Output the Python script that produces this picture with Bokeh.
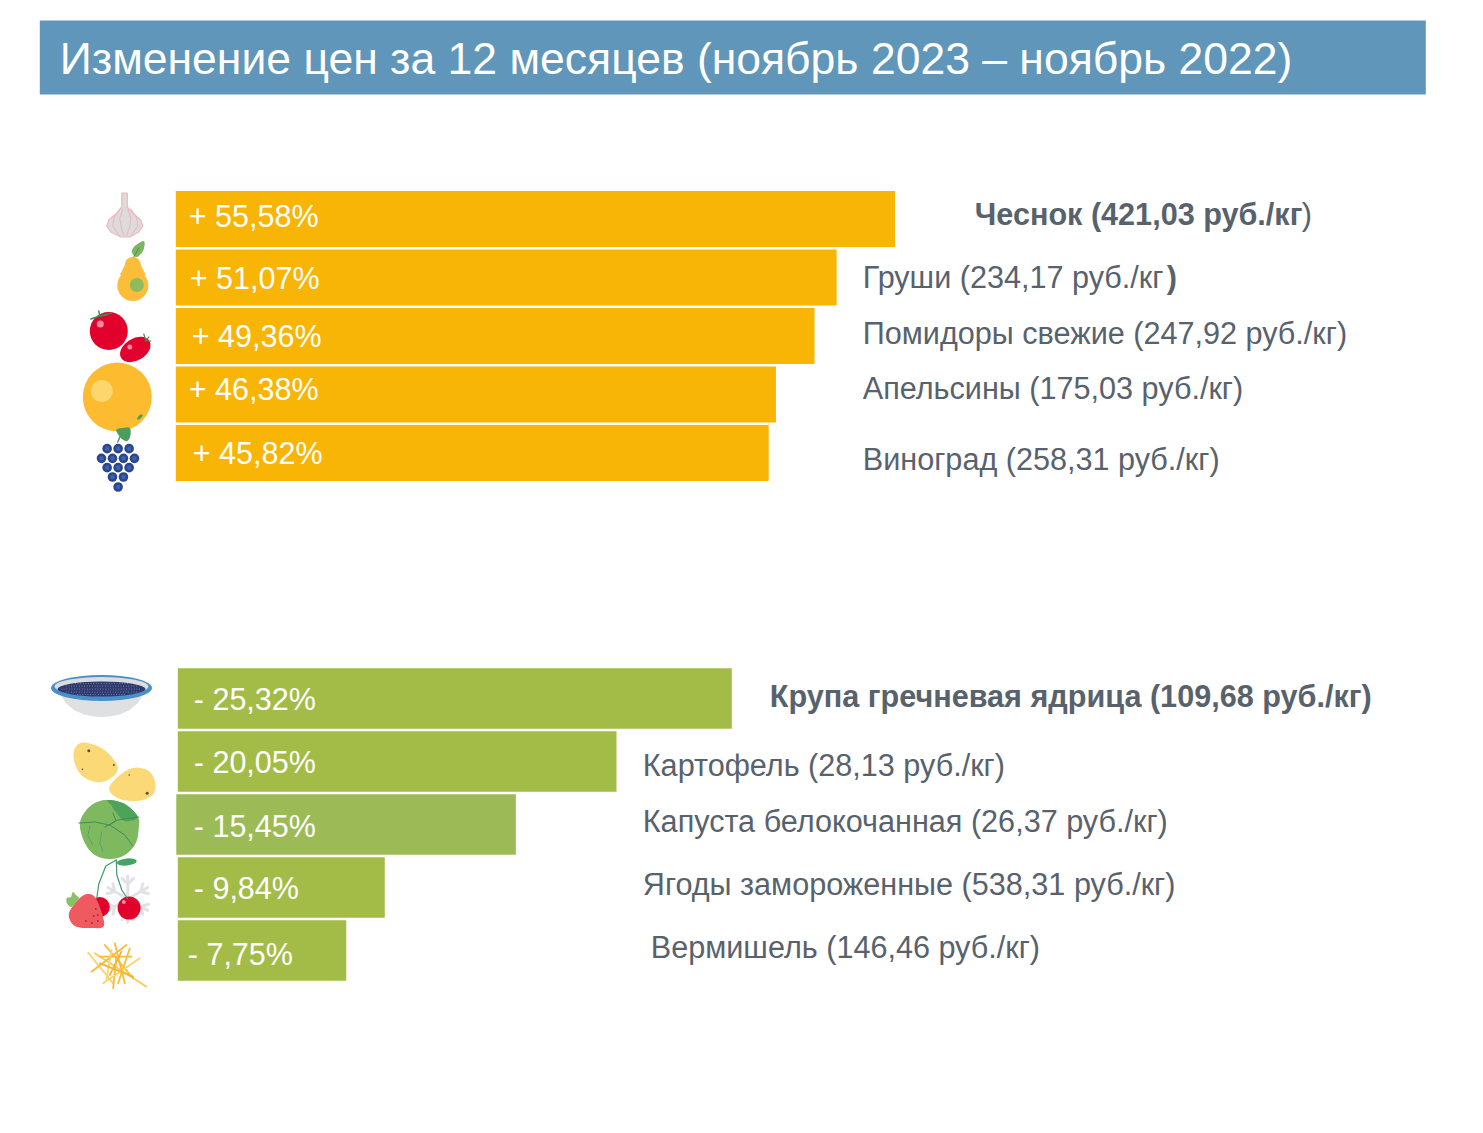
from bokeh.plotting import figure
from bokeh.models import Range1d, ColumnDataSource
from bokeh.embed import file_html
from bokeh.resources import INLINE
from bokeh.core.properties import value
import math

TITLE = "Изменение цен за 12 месяцев (ноябрь 2023 – ноябрь 2022)"
UP_NAMES = ["Чеснок", "Груши", "Помидоры свежие", "Апельсины", "Виноград"]
UP_PRICES = ["421,03", "234,17", "247,92", "175,03", "258,31"]
UP_VALUES = [55.58, 51.07, 49.36, 46.38, 45.82]
UP_LABELS = ["+ 55,58%", "+ 51,07%", "+ 49,36%", "+ 46,38%", "+ 45,82%"]
DOWN_NAMES = ["Крупа гречневая ядрица", "Картофель", "Капуста белокочанная", "Ягоды замороженные", "Вермишель"]
DOWN_PRICES = ["109,68", "28,13", "26,37", "538,31", "146,46"]
DOWN_VALUES = [25.32, 20.05, 15.45, 9.46, 7.7]
DOWN_LABELS = ["- 25,32%", "- 20,05%", "- 15,45%", "- 9,84%", "- 7,75%"]

FONT = value("Liberation Sans")
GREY = "#58626c"
W, H = 1467, 1117
X0, Y0 = 0.7, 0.5

p = figure(width=W, height=H, output_backend="svg", toolbar_location=None,
           x_range=Range1d(X0, W + X0), y_range=Range1d(H + Y0, Y0),
           x_axis_location=None, y_axis_location=None, min_border=0)
p.grid.visible = False
p.outline_line_color = None
p.background_fill_color = "white"

# value scales of the two bar groups
def add_scales(tag, x0, per_x, y0, per_y):
    p.extra_x_ranges[tag] = Range1d((X0 - x0) / per_x, (W + X0 - x0) / per_x)
    p.extra_y_ranges[tag] = Range1d((H + Y0 - y0) / per_y, (Y0 - y0) / per_y)

add_scales("up", 176, 12.94, 219, 58.5)
add_scales("down", 178, 21.88, 698.5, 63.0)

# header
p.quad(left=40, right=1426, top=20.5, bottom=94.5, fill_color="#6096b9", line_color=None)
p.text(x=[60], y=[58.5], text=[TITLE], text_font=FONT, text_font_size="44.5px", text_color="white",
       text_baseline="middle", text_align="left")

def group(tag, vals, labels, colors, h, lefts, lab_dx, lab_dy, size="30.5px"):
    idx = list(range(len(vals)))
    src = ColumnDataSource(dict(y=idx, right=vals, left=lefts, color=colors, label=labels,
                                zero=[0] * len(idx), dx=lab_dx, dy=lab_dy))
    p.hbar(y="y", left="left", right="right", height=h, fill_color="color", line_color=None,
           source=src, x_range_name=tag, y_range_name=tag)
    p.text(x="zero", y="y", text="label", x_offset="dx", y_offset="dy", source=src,
           x_range_name=tag, y_range_name=tag, text_font=FONT, text_font_size=size,
           text_color="white", text_baseline="middle", text_align="left")

def names(tag, strs, dx, dy, style="normal", size="30.6px"):
    idx = [i for i, s in enumerate(strs) if s]
    src = ColumnDataSource(dict(y=idx, label=[strs[i] for i in idx], zero=[0] * len(idx),
                                dx=[dx[i] for i in idx], dy=[dy[i] for i in idx]))
    p.text(x="zero", y="y", text="label", x_offset="dx", y_offset="dy", source=src,
           x_range_name=tag, y_range_name=tag, text_font=FONT, text_font_size=size,
           text_font_style=style, text_color=GREY, text_baseline="middle", text_align="left")

YEL = "#f9b506"
group("up", UP_VALUES, UP_LABELS, [YEL] * 5, 56 / 58.5, [0] * 5,
      [13, 14, 16, 13, 17], [-3, 0, 0, -6, 0])
GRN = "#a3bc48"
group("down", DOWN_VALUES, DOWN_LABELS, [GRN, GRN, "#9cbb56", GRN, GRN], 60.5 / 63,
      [0, 0, -0.07, 0, 0], [16, 16, 16, 16, 10], [0, 0, 1, 0, 3])

# right-hand names: bold and regular runs
up_full = [f"{n} ({v} руб./кг" for n, v in zip(UP_NAMES, UP_PRICES)]
UDX = [799, 687, 687, 687, 687]
UDY = [-5, -1, -3, -7, 6]
names("up", [up_full[0], "", "", "", ""], UDX, UDY, "bold")
names("up", [")", "", "", "", ""], [1126, 0, 0, 0, 0], UDY)
names("up", ["", up_full[1], up_full[2] + ")", up_full[3] + ")", up_full[4] + ")"], UDX, UDY)
names("up", ["", ")", "", "", ""], [0, 991, 0, 0, 0], UDY, "bold")
down_full = [f"{n} ({v} руб./кг)" for n, v in zip(DOWN_NAMES, DOWN_PRICES)]
DDX = [592, 465, 465, 465, 473]
DDY = [-3, 3, -4, -4, -4]
names("down", [down_full[0], "", "", "", ""], DDX, DDY, "bold")
names("down", [""] + down_full[1:], DDX, DDY)

# ---------- decorative icons (image pixel coordinates) ----------
def smooth(pts, n=8):
    out = []
    m = len(pts)
    for i in range(m):
        p0, p1, p2, p3 = pts[i - 1], pts[i], pts[(i + 1) % m], pts[(i + 2) % m]
        for k in range(n):
            t = k / n
            f = lambda a, b, c, d: 0.5 * (2 * b + (c - a) * t + (2 * a - 5 * b + 4 * c - d) * t * t + (3 * b - a - 3 * c + d) * t ** 3)
            out.append((f(p0[0], p1[0], p2[0], p3[0]), f(p0[1], p1[1], p2[1], p3[1])))
    return out

def blob(pts, color, sm=True, **kw):
    q = smooth(pts) if sm else pts
    p.patch([a for a, b in q], [b for a, b in q], fill_color=color, line_color=kw.get("line", None),
            line_width=kw.get("lw", 1))

def dot(x, y, r, color):
    p.ellipse(x=[x], y=[y], width=[2 * r], height=[2 * r], fill_color=color, line_color=None)

def oval(x, y, w, h, a, color):
    p.ellipse(x=[x], y=[y], width=[w], height=[h], angle=[a], fill_color=color, line_color=None)

def line(xs, ys, color, w=1.5):
    p.line(xs, ys, line_color=color, line_width=w, line_cap="round")

# garlic
blob([(122, 193), (127.5, 193), (127.5, 207), (133, 213), (141, 220), (143, 226), (139, 232), (130, 237),
      (121, 237), (111, 232), (107, 226), (109, 220), (117, 213), (122, 207)], "#dddcdd", sm=False,
     line="#efb7c0", lw=1.2)
for xs in ([120, 114, 113, 120], [123, 120, 121, 124], [128, 131, 130, 127], [131, 137, 138, 131]):
    line(xs, [209, 218, 226, 236], "#efb7c0", 1.1)

# pear
dot(133, 265, 8, "#fcbe38")
dot(133, 285.5, 15.5, "#fcbe38")
blob([(125, 265), (141, 265), (146, 275), (120, 275)], "#fcbe38", sm=False)
dot(137, 285, 7, "#8fbb5f")
blob([(144, 241), (144, 249), (140, 255), (136, 257), (132, 252), (135, 246)], "#7cb661")
line([134, 139], [257, 248], "#4b8f4f", 1)

# tomatoes
dot(109, 331, 19, "#e2002d")
dot(100.5, 324, 3.5, "#f58a9a")
for x2, y2 in [(91, 319), (99, 311), (107, 315), (112, 313)]:
    line([100, x2], [316, y2], "#3f8a52", 1.4)
oval(135.5, 349.5, 33, 22, 0.55, "#e2002d")
dot(130, 347, 2.5, "#f58a9a")
for x2, y2 in [(151, 341), (144, 334), (149, 337)]:
    line([146, x2], [341, y2], "#3f8a52", 1.2)

# orange
dot(117.5, 397, 34.5, "#fdbb30")
dot(102, 391, 11, "#fdd66e")
oval(140, 417, 7, 3, 0.8, "#4a9e5c")
blob([(116.5, 430), (123, 428), (130, 428), (130.5, 436), (127, 441), (121, 438)], "#4a9e5c")
line([118, 120], [442, 437], "#4a9e5c", 1.5)

# grapes
for yz, xzs in [(326, [112, 145, 178]), (355, [95, 128, 161, 194]), (383, [112, 145, 178]),
                (411, [128, 161]), (441, [145])]:
    for xz in xzs:
        dot(70 + xz / 3, 340 + yz / 3, 4.8, "#2b4590")
        dot(70 + xz / 3, 340 + yz / 3, 2.3, "#3c62ae")

# bowl
bowl_x = [60, 66, 74, 84, 94, 102, 110, 120, 130, 138, 144]
bowl_y = [694, 703, 710, 714.5, 716.5, 717, 716.5, 714.5, 710, 703, 694]
p.patch(bowl_x, bowl_y, fill_color="#dfe0e1", line_color=None)
oval(101.7, 688, 101, 26, 0, "#4a90c8")
oval(101.7, 686.5, 94, 19, 0, "#dcdde0")
oval(101.7, 689, 88, 15, 0, "#2f3a70")
for j, (dy, half) in enumerate([(683.5, 26), (686, 36), (689, 40), (692, 36), (694.5, 24)]):
    for i in range(int(2 * half / 2.6) + 1):
        dot(101.7 - half + i * 2.6 + (j % 2) * 0.8, dy, 0.55, "#7f86a6")

# potatoes
Z3 = lambda pts: [(40 + a / 3, 660 + b / 3) for a, b in pts]
blob(Z3([(125, 248), (165, 255), (200, 275), (232, 315), (225, 345), (180, 367), (130, 350), (105, 310), (103, 270)]), "#fbd976")
blob(Z3([(208, 385), (240, 345), (285, 323), (330, 335), (347, 375), (335, 408), (290, 423), (235, 415)]), "#fbd976")
for (a, b), r in zip(Z3([(147, 272), (222, 315), (128, 328), (322, 400), (268, 345)]), [1.5, 1, 0.8, 1.5, 0.8]):
    dot(a, b, r, "#55504a")

# cabbage
blob([(108, 800), (125, 804), (138, 817), (139, 827), (136, 843), (125, 855), (110, 859), (95, 855),
      (85, 843), (80, 825), (85, 812), (95, 803)], "#7fb95f")
blob([(108, 800), (125, 804), (138, 817), (125, 821), (116, 812), (112, 806)], "#4da35a")
line([79, 95, 110, 125, 133], [823, 822, 825, 835, 846], "#3f8f5a", 1)
line([105, 118, 139], [827, 820, 817], "#3f8f5a", 1)
line([113, 116, 110], [813, 820, 825], "#3f8f5a", 1)
line([90, 88, 93], [826, 836, 845], "#4f9f63", 0.8)
line([102, 100, 103], [832, 843, 851], "#4f9f63", 0.8)

# snowflake
cx, cy = 128, 899
for k in range(6):
    a = math.radians(60 * k + 30)
    ex, ey = cx + 23 * math.cos(a), cy + 23 * math.sin(a)
    line([cx, ex], [cy, ey], "#e2e2e6", 3)
    mx, my = cx + 15 * math.cos(a), cy + 15 * math.sin(a)
    for s in (-1, 1):
        b = a + s * 0.8
        line([mx, mx + 8 * math.cos(b)], [my, my + 8 * math.sin(b)], "#e2e2e6", 3)

# cherries and strawberry
dot(100, 907, 10, "#e2002d")
dot(129.3, 908, 11.5, "#e2002d")
dot(124, 902, 2, "#f58a9a")
line([116.5, 106, 99, 97], [860, 866, 884, 898], "#3f9a70", 1.2)
line([116.5, 117, 122, 128], [860, 875, 890, 899], "#3f9a70", 1.2)
oval(127, 862, 20, 7, 0.1, "#46a366")
blob([(69, 914), (78, 900), (87, 894), (95, 897), (101, 910), (104, 926), (92, 928), (75, 926)], "#ee5a60")
blob([(67, 903), (67, 898), (71, 897), (73, 892), (76, 895), (79, 898), (75, 904), (71, 907)], "#8cc067")
for a, b in [(96, 909), (98, 915), (86, 921), (92, 923), (98, 921), (94, 916)]:
    dot(a, b, 0.9, "#b3202e")

# vermicelli
Z4 = lambda a, b: (50 + a / 3, 820 + b / 3)
STR = [((115, 398), (190, 490), "#fbd46f"), ((135, 400), (290, 500), "#fbc95c"), ((125, 455), (230, 375), "#f9bb3a"),
       ((165, 375), (250, 475), "#f9bb3a"), ((190, 505), (200, 410), "#f9bb3a"), ((240, 385), (205, 490), "#f9bb3a"),
       ((160, 490), (270, 415), "#fbd46f"), ((195, 370), (225, 490), "#f9bb3a"), ((150, 410), (245, 410), "#f9bb3a"),
       ((185, 390), (170, 480), "#fbd46f"), ((150, 430), (250, 470), "#f7b52e"), ((215, 395), (180, 465), "#f7b52e")]
for s, e, c in STR:
    a, b = Z4(*s), Z4(*e)
    line([a[0], b[0]], [a[1], b[1]], c, 1.8)

open("out.html", "w").write(file_html(p, INLINE))
